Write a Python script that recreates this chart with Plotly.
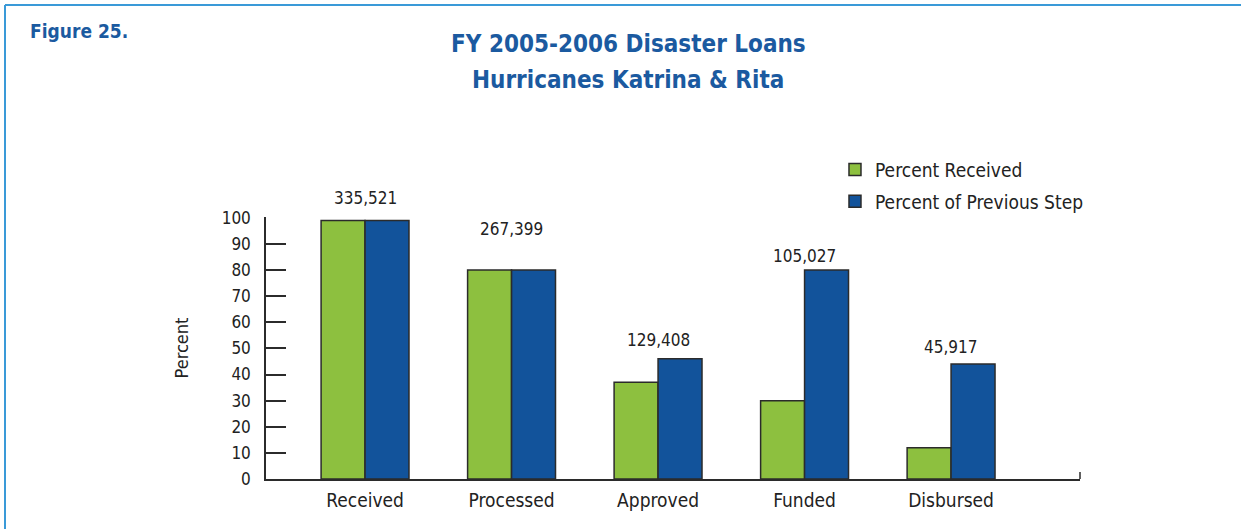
import plotly.graph_objects as go

categories = ["Received", "Processed", "Approved", "Funded", "Disbursed"]
pct_received = [99, 80, 37, 30, 12]
pct_previous = [99, 80, 46, 80, 44]
counts = ["335,521", "267,399", "129,408", "105,027", "45,917"]
y_ticks = [0, 10, 20, 30, 40, 50, 60, 70, 80, 90, 100]

FONT = "Liberation Sans Narrow, DejaVu Sans Condensed, Arial Narrow, sans-serif"
GREEN = "#8dc03f"
BLUE = "#12539b"
TITLE_BLUE = "#1b5aa0"
EDGE = "#2b2b2b"
YMAX = 100.3

fig = go.Figure()
fig.add_trace(go.Bar(x=categories, y=pct_received, name="Percent Received",
                     marker=dict(color=GREEN, line=dict(color=EDGE, width=1.5)),
                     legendgroup="a"))
fig.add_trace(go.Bar(x=categories, y=pct_previous, name="Percent of Previous Step",
                     marker=dict(color=BLUE, line=dict(color=EDGE, width=1.5)),
                     legendgroup="b"))

W = 1241 - 266 - 161
H = 529 - 217 - 50
def px(x): return (x - 266) / W
def py(y): return (479 - y) / H

label_y = [107.6, 95.8, 53.4, 85.5, 50.4]
annotations = []
for c, t, ly in zip(categories, counts, label_y):
    annotations.append(dict(x=c, y=ly / YMAX, xref="x", yref="paper", text=t, showarrow=False,
                            yanchor="middle",
                            font=dict(family=FONT, size=17, color="#222")))

annotations.append(dict(x=px(28), y=py(31), xref="paper", yref="paper", text="<b>Figure 25.</b>",
                        showarrow=False, xanchor="left", yanchor="middle",
                        font=dict(family=FONT, size=19, color=TITLE_BLUE)))
for txt, ty in [("FY 2005-2006 Disaster Loans", 44), ("Hurricanes Katrina & Rita", 80)]:
    annotations.append(dict(x=px(628), y=py(ty), xref="paper", yref="paper", text="<b>" + txt + "</b>",
                            showarrow=False, xanchor="center", yanchor="middle",
                            font=dict(family=FONT, size=24, color=TITLE_BLUE)))

fig.update_layout(
    width=1241, height=529,
    margin=dict(l=266, r=161, t=217, b=50),
    paper_bgcolor="white", plot_bgcolor="white",
    barmode="group", bargap=0.4, bargroupgap=0,
    font=dict(family=FONT, size=17, color="#222"),
    showlegend=True,
    legend=dict(x=0.699, y=1.253, xanchor="left", yanchor="top",
                traceorder="grouped", tracegroupgap=4,
                font=dict(family=FONT, size=19, color="#222"),
                bgcolor="rgba(0,0,0,0)"),
    xaxis=dict(range=[-0.676, 4.88], showline=True, linecolor=EDGE, linewidth=1.5,
               ticks="", showgrid=False, zeroline=False, ticklabelstandoff=3,
               tickfont=dict(family=FONT, size=19, color="#222")),
    yaxis=dict(range=[0, YMAX], tickvals=y_ticks, showline=True, linecolor=EDGE, linewidth=1.5,
               ticks="inside", ticklen=20, tickwidth=1.5, tickcolor=EDGE,
               showgrid=False, zeroline=False, ticklabelstandoff=10,
               tickfont=dict(family=FONT, size=17, color="#222"),
               title=dict(text="Percent", standoff=28, font=dict(family=FONT, size=18, color="#222"))),
    annotations=annotations,
)

fig.add_shape(type="line", xref="paper", yref="paper", x0=px(5), x1=px(1241), y0=py(5), y1=py(5),
              line=dict(color="#3a9ad8", width=2))
fig.add_shape(type="line", xref="paper", yref="paper", x0=px(5), x1=px(5), y0=py(5), y1=py(529),
              line=dict(color="#3a9ad8", width=2))
fig.add_shape(type="line", xref="paper", yref="paper", x0=1, x1=1, y0=0, y1=py(472),
              line=dict(color=EDGE, width=1.5))

fig.write_html("out.html")
